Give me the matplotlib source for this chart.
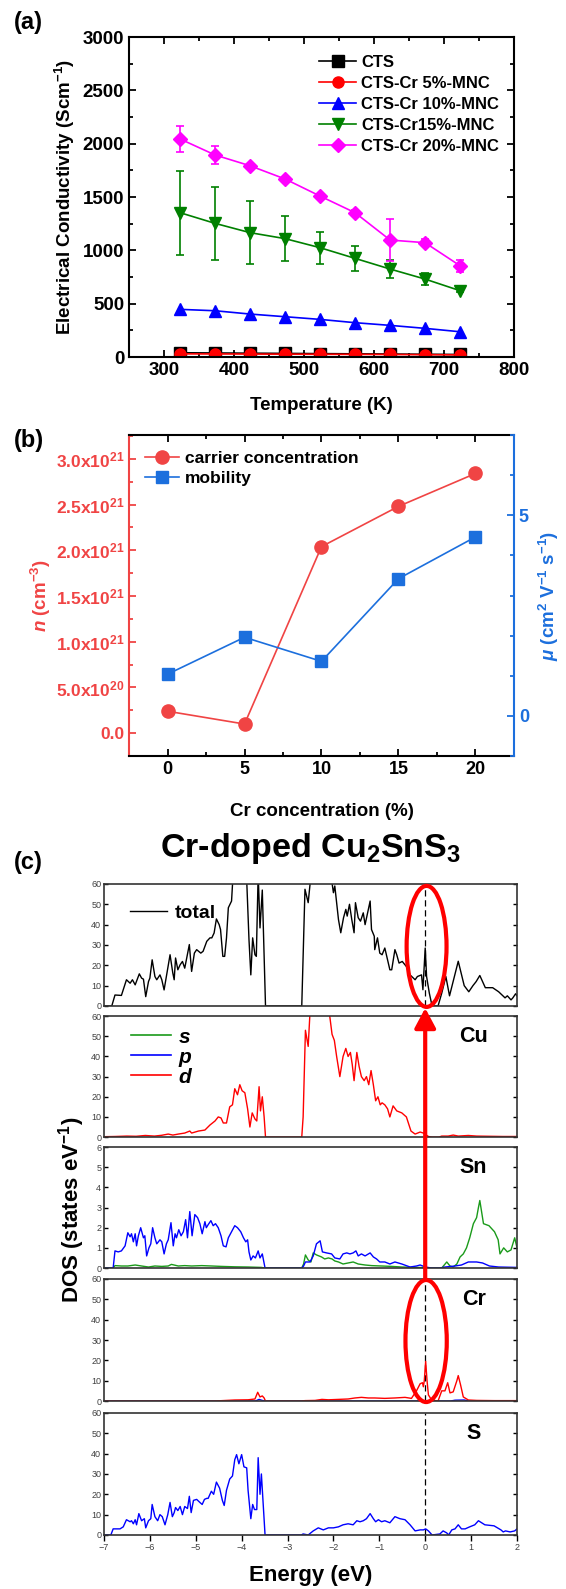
import matplotlib
matplotlib.use('Agg')
import matplotlib.pyplot as plt
from matplotlib.ticker import MultipleLocator, AutoMinorLocator
from matplotlib.patches import Ellipse, ConnectionPatch
from matplotlib.lines import Line2D

plt.rcParams['font.family'] = ['Liberation Sans', 'DejaVu Sans']
plt.rcParams['mathtext.fontset'] = 'custom'
plt.rcParams['mathtext.rm'] = 'Liberation Sans'
plt.rcParams['mathtext.it'] = 'Liberation Sans:italic'
plt.rcParams['mathtext.bf'] = 'Liberation Sans:bold'
plt.rcParams['mathtext.bfit'] = 'Liberation Sans:italic:bold'

# ---------------- (a) conductivity vs temperature
temps = [323, 373, 423, 473, 523, 573, 623, 673, 723]
cts = [40, 38, 36, 34, 32, 30, 28, 26, 24]
cts_cr5 = [30, 29, 28, 27, 26, 25, 24, 22, 20]
cts_cr10 = [447, 434, 403, 378, 353, 322, 297, 269, 237]
cts_cr15 = [1353, 1253, 1166, 1110, 1025, 925, 825, 731, 622]
cts_cr15_err = [395, 345, 297, 212, 150, 115, 88, 59, 15]
cts_cr20 = [2044, 1894, 1793, 1669, 1509, 1353, 1097, 1072, 856]
cts_cr20_err = [120, 80, 20, 20, 20, 30, 197, 30, 55]

# ---------------- (b) Hall data
cr_conc = [0, 5, 10, 15, 20]
carrier = [0.24e21, 0.10e21, 2.04e21, 2.48e21, 2.84e21]
mobility = [1.04, 1.96, 1.36, 3.42, 4.46]

# ---------------- (c) DOS (energy eV, states/eV)
dos_total = [(-7.0, 0), (-6.83, 0), (-6.76, 5.4), (-6.62, 5.2), (-6.51, 12.9), (-6.43, 11.2), (-6.38, 12.9),
             (-6.32, 10.4), (-6.23, 15.8), (-6.18, 13.7), (-6.14, 13.2), (-6.09, 4.6), (-6.03, 12.0), (-6.0, 13.7),
             (-5.95, 22.7), (-5.89, 14.5), (-5.85, 12.9), (-5.78, 15.3), (-5.74, 12.9), (-5.69, 7.9), (-5.61, 18.6),
             (-5.56, 25.2), (-5.5, 16.2), (-5.47, 12.9), (-5.44, 23.6), (-5.39, 17.8), (-5.34, 20.3), (-5.29, 21.9),
             (-5.24, 18.6), (-5.14, 30.2), (-5.09, 17.0), (-5.03, 26.0), (-4.98, 27.7), (-4.89, 26.0), (-4.84, 26.9),
             (-4.76, 31.8), (-4.69, 33.5), (-4.65, 33.5), (-4.6, 35.9), (-4.55, 42.8), (-4.49, 40.0), (-4.46, 37.6),
             (-4.41, 24.4), (-4.37, 24.4), (-4.33, 33.5), (-4.29, 48.3), (-4.22, 51.6), (-4.16, 75), (-4.05, 90),
             (-3.95, 80), (-3.89, 62), (-3.84, 32.6), (-3.8, 15.3), (-3.76, 33.5), (-3.71, 25.2), (-3.68, 24.4),
             (-3.64, 65), (-3.6, 38.4), (-3.55, 57), (-3.48, 0), (-2.69, 0), (-2.62, 57.4), (-2.55, 50.8),
             (-2.5, 62), (-2.4, 85), (-2.25, 90), (-2.1, 75), (-2.04, 62), (-2.0, 55.7), (-1.97, 59), (-1.89, 42.5),
             (-1.84, 36), (-1.78, 43.4), (-1.73, 47.5), (-1.7, 44.2), (-1.65, 50), (-1.6, 42.5), (-1.55, 36),
             (-1.52, 50.8), (-1.46, 43.4), (-1.41, 41.7), (-1.35, 45.8), (-1.31, 40), (-1.2, 51.6), (-1.17, 37.6),
             (-1.11, 34.3), (-1.1, 27.7), (-1.04, 33.5), (-0.99, 26), (-0.94, 25.2), (-0.88, 28.5), (-0.83, 23.6),
             (-0.77, 17.8), (-0.73, 17.8), (-0.66, 27.7), (-0.62, 25.2), (-0.57, 21.1), (-0.5, 21.9), (-0.41, 19.4),
             (-0.33, 15.3), (-0.22, 12.9), (-0.17, 14.5), (-0.08, 15.3), (-0.05, 8), (0.0, 28.5), (0.03, 14.5),
             (0.09, 6.3), (0.15, 0), (0.28, 0), (0.36, 6.3), (0.45, 14.5), (0.53, 5), (0.62, 13), (0.72, 22),
             (0.85, 10), (0.95, 7), (1.04, 10), (1.11, 12), (1.19, 15), (1.31, 9), (1.47, 9), (1.6, 7), (1.74, 4),
             (1.79, 5), (1.87, 3), (1.91, 4), (1.97, 6), (2.0, 5)]

cu_d = [(-7.0, 0.2), (-6.76, 0.3), (-6.5, 0.5), (-6.3, 0.4), (-6.1, 0.8), (-5.9, 0.5), (-5.74, 0.9), (-5.6, 1.5),
        (-5.5, 1.0), (-5.38, 1.5), (-5.24, 2.0), (-5.13, 3.0), (-5.09, 2.0), (-4.94, 3.0), (-4.8, 3.5), (-4.69, 6.0),
        (-4.58, 8.0), (-4.51, 10.0), (-4.45, 9.5), (-4.4, 7.0), (-4.33, 7.0), (-4.26, 15.0), (-4.2, 16.0),
        (-4.15, 24.0), (-4.09, 21.0), (-4.04, 26.0), (-3.99, 23.0), (-3.93, 22.0), (-3.87, 14.0), (-3.82, 5.0),
        (-3.77, 12.0), (-3.71, 9.0), (-3.67, 8.0), (-3.62, 25.0), (-3.59, 13.0), (-3.55, 20.0), (-3.51, 10.0),
        (-3.48, 0), (-2.69, 0), (-2.66, 10), (-2.61, 53), (-2.55, 45), (-2.51, 62), (-2.4, 80), (-2.25, 90),
        (-2.11, 70), (-2.08, 60), (-2.03, 51), (-1.98, 48), (-1.93, 40), (-1.86, 30), (-1.79, 40), (-1.73, 44),
        (-1.68, 40), (-1.63, 42), (-1.59, 36), (-1.55, 28), (-1.49, 42), (-1.44, 35), (-1.39, 30), (-1.33, 28),
        (-1.28, 30), (-1.23, 26), (-1.18, 33), (-1.13, 26), (-1.08, 18), (-1.03, 20), (-0.98, 16), (-0.94, 17),
        (-0.88, 16), (-0.82, 14), (-0.77, 10), (-0.7, 15.5), (-0.62, 13), (-0.51, 12), (-0.41, 10), (-0.31, 3),
        (-0.22, 1.5), (-0.11, 2.5), (-0.04, 2), (0.07, 0.3), (0.15, 0), (0.3, 0), (0.36, 0.5), (0.5, 0.5),
        (0.61, 1.0), (0.72, 0.5), (0.94, 0.8), (1.12, 0.5), (1.4, 0.4), (1.7, 0.3), (2.0, 0.3)]

sn_p = [(-7.0, 0), (-6.8, 0), (-6.76, 0.85), (-6.69, 0.8), (-6.62, 0.85), (-6.54, 1.1), (-6.48, 1.75), (-6.43, 1.55),
        (-6.4, 1.7), (-6.36, 1.3), (-6.32, 1.7), (-6.29, 1.1), (-6.25, 1.6), (-6.2, 2.0), (-6.14, 1.5), (-6.11, 1.6),
        (-6.07, 0.6), (-6.02, 1.0), (-5.98, 1.2), (-5.94, 2.0), (-5.89, 1.5), (-5.85, 1.2), (-5.78, 1.4),
        (-5.74, 1.3), (-5.69, 0.7), (-5.64, 1.2), (-5.6, 1.4), (-5.54, 2.25), (-5.49, 1.1), (-5.45, 1.7),
        (-5.42, 1.5), (-5.37, 1.9), (-5.32, 1.6), (-5.27, 1.8), (-5.22, 2.4), (-5.18, 1.5), (-5.13, 2.8),
        (-5.08, 1.6), (-5.02, 2.65), (-4.96, 2.5), (-4.91, 2.2), (-4.86, 1.7), (-4.8, 2.3), (-4.77, 2.0),
        (-4.73, 2.15), (-4.67, 2.35), (-4.62, 2.1), (-4.57, 2.2), (-4.51, 2.0), (-4.45, 1.6), (-4.4, 1.1),
        (-4.34, 1.05), (-4.29, 1.5), (-4.22, 1.8), (-4.15, 2.1), (-4.09, 2.0), (-4.02, 1.8), (-3.96, 1.5),
        (-3.91, 1.3), (-3.87, 1.4), (-3.84, 0.8), (-3.8, 0.4), (-3.75, 0.6), (-3.7, 0.5), (-3.64, 0.85),
        (-3.6, 0.5), (-3.55, 0.7), (-3.49, 0), (-2.69, 0), (-2.65, 0.1), (-2.61, 0.3), (-2.51, 0.3), (-2.44, 0.6),
        (-2.37, 1.2), (-2.29, 1.35), (-2.24, 0.8), (-2.15, 0.75), (-2.04, 0.7), (-1.97, 0.5), (-1.86, 0.45),
        (-1.79, 0.7), (-1.71, 0.75), (-1.64, 0.7), (-1.57, 0.75), (-1.51, 0.85), (-1.46, 0.6), (-1.39, 0.7),
        (-1.31, 0.6), (-1.2, 0.75), (-1.13, 0.55), (-1.06, 0.45), (-0.99, 0.3), (-0.88, 0.3), (-0.77, 0.2),
        (-0.66, 0.3), (-0.51, 0.2), (-0.33, 0.05), (-0.19, 0.1), (-0.11, 0.15), (0.0, 0.05), (0.14, 0), (0.32, 0),
        (0.43, 0.05), (0.65, 0.1), (0.79, 0.15), (0.94, 0.3), (1.12, 0.3), (1.25, 0.25), (1.4, 0.1), (1.6, 0.05),
        (2.0, 0.03)]

sn_s = [(-7.0, 0), (-6.8, 0), (-6.76, 0.12), (-6.62, 0.1), (-6.48, 0.1), (-6.32, 0.15), (-6.18, 0.1), (-6.03, 0.05),
        (-5.89, 0.1), (-5.74, 0.08), (-5.6, 0.1), (-5.53, 0.18), (-5.38, 0.1), (-5.24, 0.12), (-5.09, 0.1),
        (-4.87, 0.12), (-4.65, 0.1), (-4.44, 0.08), (-4.15, 0.06), (-3.86, 0.05), (-3.57, 0.03), (-3.49, 0),
        (-2.69, 0), (-2.65, 0.2), (-2.61, 0.65), (-2.55, 0.4), (-2.49, 0.3), (-2.44, 0.75), (-2.37, 0.65),
        (-2.26, 0.55), (-2.19, 0.45), (-2.11, 0.5), (-2.03, 0.45), (-1.97, 0.35), (-1.89, 0.3), (-1.79, 0.2),
        (-1.68, 0.25), (-1.57, 0.3), (-1.46, 0.2), (-1.31, 0.15), (-1.17, 0.12), (-0.95, 0.1), (-0.73, 0.08),
        (-0.51, 0.05), (-0.22, 0.03), (0.0, 0.02), (0.14, 0), (0.36, 0), (0.47, 0.3), (0.54, 0.1), (0.61, 0.05),
        (0.69, 0.2), (0.76, 0.55), (0.83, 0.7), (0.9, 1.0), (0.97, 1.5), (1.05, 2.2), (1.12, 2.5), (1.16, 3.0),
        (1.19, 3.35), (1.27, 2.2), (1.39, 2.1), (1.51, 1.8), (1.59, 1.4), (1.63, 0.7), (1.71, 1.0), (1.79, 0.8),
        (1.87, 0.9), (1.95, 1.5), (2.0, 1.0)]

cr_d = [(-7.0, 0), (-4.6, 0), (-4.33, 0.3), (-4.15, 0.5), (-3.86, 0.6), (-3.71, 1.0), (-3.65, 4.3), (-3.6, 2.0),
        (-3.55, 2.5), (-3.51, 1.5), (-3.48, 0), (-2.7, 0), (-2.62, 0.2), (-2.4, 0.3), (-2.25, 0.8), (-2.11, 0.6),
        (-1.89, 0.8), (-1.68, 1.0), (-1.53, 1.5), (-1.39, 1.8), (-1.24, 1.5), (-1.1, 1.5), (-0.88, 1.3),
        (-0.66, 1.5), (-0.44, 1.8), (-0.3, 1.3), (-0.19, 5.0), (-0.11, 8.5), (-0.06, 9.0), (-0.04, 7.0),
        (-0.02, 10.0), (0.01, 19.5), (0.04, 10.0), (0.07, 3.0), (0.14, 0.5), (0.28, 0), (0.36, 5.0), (0.43, 5.0),
        (0.49, 9.0), (0.54, 4.0), (0.61, 4.5), (0.69, 10.0), (0.72, 12.5), (0.77, 8.0), (0.83, 2.0), (0.94, 0.5),
        (1.12, 0.3), (1.5, 0.2), (2.0, 0.2)]
cr_p = [(-7.0, 0), (-3.7, 0), (-3.62, 0.8), (-3.55, 0.3), (-3.48, 0), (0.55, 0), (0.65, 0.4), (0.85, 0.5),
        (0.95, 0), (2.0, 0)]

s_p = [(-7.0, 0), (-6.85, 0), (-6.8, 3.0), (-6.65, 3.0), (-6.58, 4.0), (-6.51, 7.5), (-6.43, 6.5), (-6.4, 7.0),
       (-6.36, 5.5), (-6.32, 7.5), (-6.29, 5.0), (-6.24, 10.5), (-6.18, 7.0), (-6.12, 8.0), (-6.09, 3.5),
       (-6.03, 7.0), (-5.98, 8.0), (-5.95, 15.0), (-5.89, 9.0), (-5.83, 7.0), (-5.78, 10.0), (-5.73, 9.0),
       (-5.67, 5.0), (-5.61, 10.0), (-5.56, 16.0), (-5.51, 9.0), (-5.47, 11.0), (-5.44, 13.5), (-5.39, 12.0),
       (-5.34, 14.0), (-5.29, 10.0), (-5.24, 14.0), (-5.18, 13.0), (-5.14, 19.0), (-5.1, 11.0), (-5.05, 17.0),
       (-4.98, 17.5), (-4.91, 16.0), (-4.86, 15.0), (-4.81, 17.5), (-4.76, 18.0), (-4.73, 18.0), (-4.66, 21.5),
       (-4.61, 20.0), (-4.55, 26.0), (-4.48, 23.0), (-4.42, 17.0), (-4.38, 14.5), (-4.33, 22.0), (-4.26, 27.5),
       (-4.2, 29.0), (-4.15, 37.0), (-4.11, 39.5), (-4.06, 35.0), (-4.0, 39.5), (-3.95, 33.5), (-3.89, 33.0),
       (-3.86, 22.0), (-3.8, 8.0), (-3.76, 15.0), (-3.72, 12.5), (-3.67, 12.5), (-3.64, 38.0), (-3.6, 20.0),
       (-3.57, 30.0), (-3.53, 15.0), (-3.49, 0), (-2.7, 0), (-2.66, 0.5), (-2.55, 0), (-2.44, 2.0), (-2.33, 3.5),
       (-2.22, 2.5), (-2.11, 3.5), (-2.0, 3.5), (-1.89, 4.0), (-1.79, 5.0), (-1.68, 5.5), (-1.57, 5.0),
       (-1.49, 7.0), (-1.42, 6.5), (-1.35, 7.0), (-1.28, 8.0), (-1.2, 10.5), (-1.13, 8.0), (-1.08, 6.5),
       (-1.02, 7.5), (-0.95, 6.5), (-0.88, 7.0), (-0.77, 6.0), (-0.66, 9.0), (-0.55, 8.0), (-0.44, 7.5),
       (-0.33, 5.0), (-0.22, 2.0), (-0.11, 2.5), (-0.04, 2.5), (0.01, 3.0), (0.07, 2.0), (0.15, 0), (0.32, 0.5),
       (0.39, 2.0), (0.47, 1.0), (0.51, 0), (0.58, 2.5), (0.65, 3.0), (0.72, 5.0), (0.79, 3.0), (0.87, 3.0),
       (0.97, 4.0), (1.08, 5.0), (1.16, 7.0), (1.3, 5.0), (1.5, 4.5), (1.65, 2.5), (1.7, 1.5), (1.75, 2.0),
       (1.85, 1.5), (1.95, 2.0), (2.0, 3.0)]

RED_B = '#F04444'
BLUE_B = '#1C6FDD'
FS = 13.5

fig = plt.figure(figsize=(5.66, 15.89), dpi=100)

# ================= (a)
ax1 = fig.add_axes([0.228, 0.7753, 0.680, 0.2014])
series = [('CTS', cts, None, 'black', 's'),
          ('CTS-Cr 5%-MNC', cts_cr5, None, 'red', 'o'),
          ('CTS-Cr 10%-MNC', cts_cr10, None, 'blue', '^'),
          ('CTS-Cr15%-MNC', cts_cr15, cts_cr15_err, 'green', 'v'),
          ('CTS-Cr 20%-MNC', cts_cr20, cts_cr20_err, 'magenta', 'D')]
for name, vals, errs, col, mk in series:
    if errs is not None:
        ax1.errorbar(temps, vals, yerr=errs, fmt='none', ecolor=col, elinewidth=1.2, capsize=3.2, capthick=1.2)
    ax1.plot(temps, vals, color=col, marker=mk, ms=8 if mk != 'D' else 7, lw=1.2, label=name)
ax1.set_xlim(250, 800)
ax1.set_ylim(0, 3000)
ax1.set_xticks([300, 400, 500, 600, 700, 800])
ax1.xaxis.set_minor_locator(AutoMinorLocator(2))
ax1.yaxis.set_major_locator(MultipleLocator(500))
ax1.yaxis.set_minor_locator(AutoMinorLocator(2))
ax1.tick_params(which='both', direction='in', top=True, right=True, width=1.3, labelsize=FS)
ax1.tick_params(which='major', length=5)
ax1.tick_params(which='minor', length=3)
for lab in ax1.get_xticklabels() + ax1.get_yticklabels():
    lab.set_fontweight('bold')
for sp in ax1.spines.values():
    sp.set_linewidth(1.5)
ax1.set_xlabel('Temperature (K)', fontsize=FS, fontweight='bold', labelpad=13)
ax1.set_ylabel(r'Electrical Conductivity (Scm$^{\mathbf{-1}}$)', fontsize=FS, fontweight='bold', labelpad=4)
ax1.legend(loc='upper right', bbox_to_anchor=(1.0, 0.99), frameon=False, handlelength=2.2, handletextpad=0.3,
           labelspacing=0.35, prop={'weight': 'bold', 'size': 12})

# ================= (b)
ax2 = fig.add_axes([0.228, 0.5242, 0.680, 0.2020])
ax2r = ax2.twinx()
l1, = ax2.plot(cr_conc, carrier, color=RED_B, marker='o', ms=9.5, lw=1.2, label='carrier concentration')
l2, = ax2r.plot(cr_conc, mobility, color=BLUE_B, marker='s', ms=8, lw=1.2, label='mobility')
ax2.set_xlim(-2.5, 22.5)
ax2.set_ylim(-0.25e21, 3.26e21)
ax2r.set_ylim(-1, 7)
ax2.set_xticks([0, 5, 10, 15, 20])
ax2.xaxis.set_minor_locator(AutoMinorLocator(2))
ax2.set_yticks([0, 0.5e21, 1.0e21, 1.5e21, 2.0e21, 2.5e21, 3.0e21])
ax2.set_yticklabels(['0.0', r'5.0x10$^{\mathbf{20}}$', r'1.0x10$^{\mathbf{21}}$', r'1.5x10$^{\mathbf{21}}$',
                     r'2.0x10$^{\mathbf{21}}$', r'2.5x10$^{\mathbf{21}}$', r'3.0x10$^{\mathbf{21}}$'])
ax2.yaxis.set_minor_locator(AutoMinorLocator(2))
ax2r.set_yticks([0, 5])
ax2r.yaxis.set_minor_locator(MultipleLocator(1))
ax2.tick_params(which='both', direction='in', top=True, width=1.3, labelsize=12.5)
ax2.tick_params(axis='x', labelsize=13)
ax2.tick_params(which='major', length=5)
ax2.tick_params(which='minor', length=3)
ax2.tick_params(axis='y', which='both', colors=RED_B)
ax2r.tick_params(which='both', direction='in', width=1.3, labelsize=13, colors=BLUE_B)
ax2r.tick_params(which='major', length=5)
ax2r.tick_params(which='minor', length=3)
for lab in ax2.get_xticklabels() + ax2.get_yticklabels() + ax2r.get_yticklabels():
    lab.set_fontweight('bold')
for sp in ax2.spines.values():
    sp.set_linewidth(1.5)
for sp in ax2r.spines.values():
    sp.set_linewidth(1.5)
ax2.spines['left'].set_color(RED_B)
ax2.spines['right'].set_visible(False)
ax2r.spines['left'].set_visible(False)
ax2r.spines['top'].set_visible(False)
ax2r.spines['bottom'].set_visible(False)
ax2r.spines['right'].set_color(BLUE_B)
ax2.set_xlabel('Cr concentration (%)', fontsize=FS, fontweight='bold', labelpad=18)
ax2.set_ylabel(r'$\mathbfit{n}$ (cm$^{\mathbf{-3}}$)', fontsize=FS, fontweight='bold', color=RED_B, labelpad=2)
ax2r.set_ylabel(r'$\mathbfit{\mu}$ (cm$^{\mathbf{2}}$ V$^{\mathbf{-1}}$ s$^{\mathbf{-1}}$)', fontsize=FS,
                fontweight='bold', color=BLUE_B, labelpad=6)
ax2.legend(handles=[l1, l2], loc='upper left', frameon=False, handlelength=2.0, handletextpad=0.3,
           labelspacing=0.3, prop={'weight': 'bold', 'size': 12.5})

# ================= (c) DOS
left, width = 0.1837, 0.7297
boxes = [(0.3669, 0.0768), (0.2844, 0.0761), (0.2020, 0.0761), (0.1183, 0.0768), (0.0340, 0.0768)]
axs = [fig.add_axes([left, b, width, h]) for b, h in boxes]
ax_tot, ax_cu, ax_sn, ax_cr, ax_s = axs


def unzip(pairs):
    return [p[0] for p in pairs], [p[1] for p in pairs]


ax_tot.plot(*unzip(dos_total), color='black', lw=1.0, label='total')
ax_cu.plot(*unzip(cu_d), color='red', lw=1.0)
ax_sn.plot(*unzip(sn_s), color='#1a9a1a', lw=1.0)
ax_sn.plot(*unzip(sn_p), color='blue', lw=1.0)
ax_cr.plot(*unzip(cr_p), color='blue', lw=1.0)
ax_cr.plot(*unzip(cr_d), color='red', lw=1.0)
ax_s.plot(*unzip(s_p), color='blue', lw=1.0)

for ax in axs:
    ax.set_xlim(-7, 2)
    ax.xaxis.set_major_locator(MultipleLocator(1))
    ax.axvline(0, color='black', lw=0.9, ls=(0, (5, 3)), zorder=1)
    ax.tick_params(axis='y', which='both', direction='in', right=True, length=3, width=1.0,
                   labelsize=6.5, labelcolor='#404040', pad=2)
    ax.tick_params(axis='x', bottom=False, labelbottom=False)
    for sp in ax.spines.values():
        sp.set_linewidth(1.2)
        sp.set_color('#333333')
for ax in [ax_tot, ax_cu, ax_cr, ax_s]:
    ax.set_ylim(0, 60)
    ax.set_yticks(range(0, 61, 10))
ax_sn.set_ylim(0, 6)
ax_sn.set_yticks(range(0, 7))
ax_s.tick_params(axis='x', bottom=True, labelbottom=True, direction='out', length=4, width=1.0,
                 labelsize=6.5, labelcolor='#404040', pad=2)

for ax, name in [(ax_cu, 'Cu'), (ax_sn, 'Sn'), (ax_cr, 'Cr'), (ax_s, 'S')]:
    ax.text(0.895, 0.83, name, transform=ax.transAxes, ha='center', va='center', fontsize=15.5, fontweight='bold')

ax_tot.legend(loc='upper left', bbox_to_anchor=(0.02, 0.98), frameon=False, handlelength=1.9,
              handletextpad=0.4, prop={'weight': 'bold', 'size': 14})
orb_handles = [Line2D([], [], color='#1a9a1a', lw=1.2), Line2D([], [], color='blue', lw=1.2),
               Line2D([], [], color='red', lw=1.2)]
ax_cu.legend(orb_handles, ['s', 'p', 'd'], loc='upper left', bbox_to_anchor=(0.02, 1.06), frameon=False,
             handlelength=1.9, handletextpad=0.4, labelspacing=0.05,
             prop={'weight': 'bold', 'style': 'italic', 'size': 15})

# red ellipses around E_F
ax_tot.add_patch(Ellipse((0.03, 29.3), 0.87, 59.5, fill=False, ec='red', lw=3, clip_on=False, zorder=5))
ax_cr.add_patch(Ellipse((0.02, 29.5), 0.90, 60.0, fill=False, ec='red', lw=3, clip_on=False, zorder=5))

# red arrow from Cr panel up to total panel
arrow = ConnectionPatch(xyA=(0.0, 60), coordsA=ax_cr.transData, xyB=(0.0, -1.0), coordsB=ax_tot.transData,
                        arrowstyle='-|>,head_length=0.6,head_width=0.32', mutation_scale=20,
                        color='red', lw=3, shrinkA=0, shrinkB=0, zorder=6)
fig.add_artist(arrow)

ax_s.set_xlabel('Energy (eV)', fontsize=16, fontweight='bold', labelpad=9)
fig.text(0.127, (0.034 + 0.4437) / 2, r'DOS (states eV$^{\mathbf{-1}}$)', rotation=90, ha='center', va='center',
         fontsize=16, fontweight='bold')

fig.text(0.548, 1 - 848 / 1589, r'Cr-doped Cu$_{\mathbf{2}}$SnS$_{\mathbf{3}}$', ha='center', va='center',
         fontsize=24.5, fontweight='bold')

for lab, y in [('(a)', 23), ('(b)', 440), ('(c)', 862)]:
    fig.text(0.025, 1 - y / 1589, lab, ha='left', va='center', fontsize=17, fontweight='bold')

fig.savefig('out.png', dpi=100)
